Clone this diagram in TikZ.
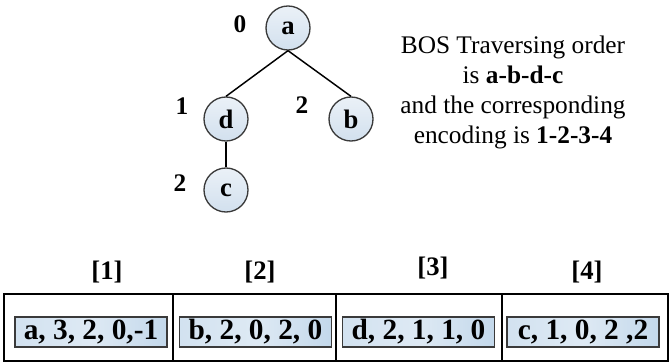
\documentclass[tikz,border=0pt]{standalone}
\usepackage{fontspec}
\setmainfont{Liberation Serif}
\definecolor{nodeblue}{HTML}{D2E0EE}
\definecolor{boxblue}{HTML}{C3D8EB}
\definecolor{edgegray}{HTML}{3A3A3A}

\begin{document}
\begin{tikzpicture}[x=0.75pt,y=-0.75pt,
  vertex/.style={circle, draw=edgegray, line width=1pt, minimum size=33pt, inner sep=0pt,
    top color=nodeblue!45, bottom color=nodeblue, font=\fontsize{20}{22}\selectfont\bfseries},
  level/.style={font=\fontsize{19}{21}\selectfont\bfseries},
  record/.style={draw=edgegray, line width=1.1pt, minimum width=114pt, minimum height=22.5pt,
    inner sep=0pt, left color=boxblue!75, right color=boxblue, middle color=boxblue!55,
    font=\fontsize{22}{24}\selectfont\bfseries},
  index/.style={font=\fontsize{20}{22}\selectfont\bfseries}]
  \useasboundingbox (0,0) rectangle (670,363);

  % the tree
  \node[vertex] (a) at (288,28) {a};
  \node[vertex] (d) at (226,119) {d};
  \node[vertex] (b) at (351,119) {b};
  \node[vertex] (c) at (226,190) {c};
  \draw[line width=1.1pt] (a.south) -- (d.north);
  \draw[line width=1.1pt] (a.south) -- (b.north);
  \draw[line width=1.1pt] (d.south) -- (c.north);

  \node[level] (la) at (240,24) {0};
  \node[level] (ld) at (182,106) {1};
  \node[level] (lb) at (302,105) {2};
  \node[level] (lc) at (180,183) {2};

  \node[align=center, font=\fontsize{19}{22.5}\selectfont] (order) at (513,92)
    {BOS Traversing order\\ is \textbf{a-b-d-c}\\ and the corresponding\\ encoding is \textbf{1-2-3-4}};

  % the encoded array
  \draw[line width=1.1pt] (4,294) rectangle (668,361);
  \draw[line width=1.1pt] (173,294) -- (173,361);
  \draw[line width=1.1pt] (336,294) -- (336,361);
  \draw[line width=1.1pt] (502,294) -- (502,361);

  \node[index] (i1) at (107,272) {[1]};
  \node[index] (i2) at (260,272) {[2]};
  \node[index] (i3) at (433,268) {[3]};
  \node[index] (i4) at (587,272) {[4]};

  \node[record] (r1) at (91,332) {a, 3, 2, 0,-1};
  \node[record] (r2) at (255.5,332) {b, 2, 0, 2, 0};
  \node[record] (r3) at (418.5,332) {d, 2, 1, 1, 0};
  \node[record] (r4) at (583,332) {c, 1, 0, 2 ,2};
\end{tikzpicture}
\end{document}
